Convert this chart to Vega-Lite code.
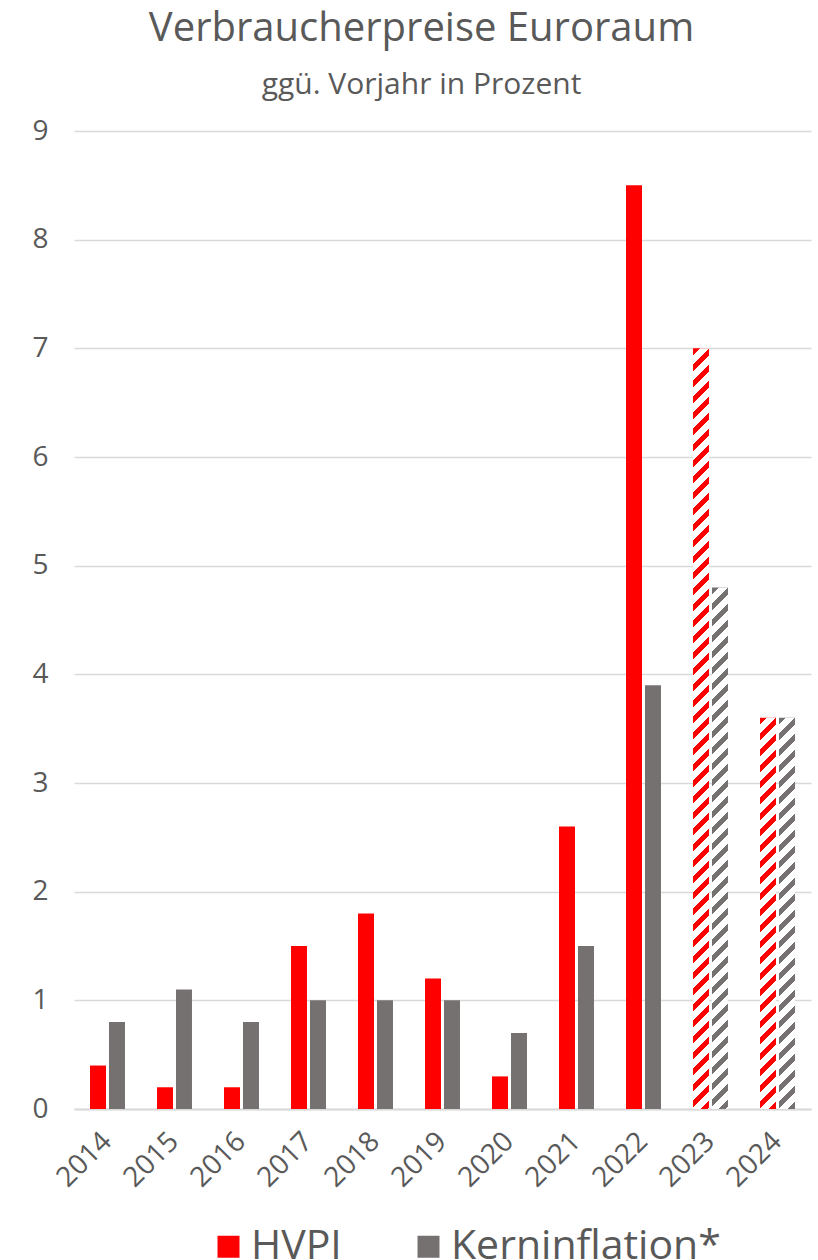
{
  "$schema": "https://vega.github.io/schema/vega-lite/v6.json",
  "width": 737,
  "height": 978,
  "autosize": {"type": "none"},
  "padding": {"left": 74, "top": 131, "right": 7, "bottom": 151},
  "background": "white",
  "config": {"view": {"stroke": null}, "font": "Open Sans"},
  "title": {
    "text": "Verbraucherpreise Euroraum",
    "subtitle": "ggü. Vorjahr in Prozent",
    "anchor": "middle",
    "frame": "group",
    "fontSize": 40,
    "subtitleFontSize": 30,
    "color": "#595959",
    "subtitleColor": "#595959",
    "font": "Open Sans",
    "subtitleFont": "Open Sans",
    "fontWeight": "normal",
    "subtitlePadding": 21,
    "offset": 17,
    "dx": -21
  },
  "data": {
    "values": [
      {"year": "2014", "series": "HVPI", "value": 0.4},
      {"year": "2014", "series": "Kerninflation*", "value": 0.8},
      {"year": "2015", "series": "HVPI", "value": 0.2},
      {"year": "2015", "series": "Kerninflation*", "value": 1.1},
      {"year": "2016", "series": "HVPI", "value": 0.2},
      {"year": "2016", "series": "Kerninflation*", "value": 0.8},
      {"year": "2017", "series": "HVPI", "value": 1.5},
      {"year": "2017", "series": "Kerninflation*", "value": 1.0},
      {"year": "2018", "series": "HVPI", "value": 1.8},
      {"year": "2018", "series": "Kerninflation*", "value": 1.0},
      {"year": "2019", "series": "HVPI", "value": 1.2},
      {"year": "2019", "series": "Kerninflation*", "value": 1.0},
      {"year": "2020", "series": "HVPI", "value": 0.3},
      {"year": "2020", "series": "Kerninflation*", "value": 0.7},
      {"year": "2021", "series": "HVPI", "value": 2.6},
      {"year": "2021", "series": "Kerninflation*", "value": 1.5},
      {"year": "2022", "series": "HVPI", "value": 8.5},
      {"year": "2022", "series": "Kerninflation*", "value": 3.9},
      {"year": "2023", "series": "HVPI", "value": 7.0},
      {"year": "2023", "series": "Kerninflation*", "value": 4.8},
      {"year": "2024", "series": "HVPI", "value": 3.6},
      {"year": "2024", "series": "Kerninflation*", "value": 3.6}
    ]
  },
  "encoding": {
    "x": {
      "field": "year",
      "type": "nominal",
      "title": null,
      "scale": {"paddingInner": 0.478, "paddingOuter": 0.239},
      "axis": {
        "labelAngle": -45,
        "labelAlign": "right",
        "labelBaseline": "middle",
        "labelFontSize": 28,
        "labelColor": "#595959",
        "labelFont": "Open Sans",
        "ticks": false,
        "domainColor": "#d9d9d9",
        "domainWidth": 2,
        "labelPadding": 28,
        "grid": false
      }
    },
    "xOffset": {
      "field": "series",
      "type": "nominal",
      "sort": ["HVPI", "Kerninflation*"],
      "scale": {"paddingInner": 0.158, "paddingOuter": 0}
    },
    "y": {
      "field": "value",
      "type": "quantitative",
      "title": null,
      "scale": {"domain": [0, 9], "nice": false},
      "axis": {
        "values": [0, 1, 2, 3, 4, 5, 6, 7, 8, 9],
        "labelFontSize": 28,
        "labelColor": "#595959",
        "labelFont": "Open Sans",
        "ticks": false,
        "domain": false,
        "grid": true,
        "gridColor": "#d9d9d9",
        "gridWidth": 1.5,
        "labelPadding": 26
      }
    }
  },
  "layer": [
    {
      "mark": {"type": "bar"},
      "encoding": {
        "color": {
          "field": "series",
          "type": "nominal",
          "scale": {"domain": ["HVPI", "Kerninflation*"], "range": ["#ff0000", "#767171"]},
          "legend": {
            "orient": "none",
            "legendX": 134,
            "legendY": 1095,
            "direction": "horizontal",
            "title": null,
            "symbolType": "square",
            "symbolSize": 484,
            "symbolStrokeWidth": 0,
            "labelFontSize": 41,
            "labelFont": "Open Sans",
            "labelColor": "#595959",
            "labelOffset": 2,
            "labelLimit": 0,
            "columnPadding": 66
          }
        }
      }
    },
    {
      "transform": [{"filter": "datum.year == '2023' && datum.series == 'HVPI'"}],
      "mark": {
        "type": "bar",
        "fill": {
          "gradient": "linear", "x1": 0, "y1": 0, "x2": 0.022112, "y2": 1.05124,
          "stops": [
            {"offset":0.00875,"color":"#fff0"},{"offset":0.00875,"color":"#fff"},{"offset":0.02,"color":"#fff"},{"offset":0.02,"color":"#fff0"},
            {"offset":0.02875,"color":"#fff0"},{"offset":0.02875,"color":"#fff"},{"offset":0.04,"color":"#fff"},{"offset":0.04,"color":"#fff0"},
            {"offset":0.04875,"color":"#fff0"},{"offset":0.04875,"color":"#fff"},{"offset":0.06,"color":"#fff"},{"offset":0.06,"color":"#fff0"},
            {"offset":0.06875,"color":"#fff0"},{"offset":0.06875,"color":"#fff"},{"offset":0.08,"color":"#fff"},{"offset":0.08,"color":"#fff0"},
            {"offset":0.08875,"color":"#fff0"},{"offset":0.08875,"color":"#fff"},{"offset":0.1,"color":"#fff"},{"offset":0.1,"color":"#fff0"},
            {"offset":0.10875,"color":"#fff0"},{"offset":0.10875,"color":"#fff"},{"offset":0.12,"color":"#fff"},{"offset":0.12,"color":"#fff0"},
            {"offset":0.12875,"color":"#fff0"},{"offset":0.12875,"color":"#fff"},{"offset":0.14,"color":"#fff"},{"offset":0.14,"color":"#fff0"},
            {"offset":0.14875,"color":"#fff0"},{"offset":0.14875,"color":"#fff"},{"offset":0.16,"color":"#fff"},{"offset":0.16,"color":"#fff0"},
            {"offset":0.16875,"color":"#fff0"},{"offset":0.16875,"color":"#fff"},{"offset":0.18,"color":"#fff"},{"offset":0.18,"color":"#fff0"},
            {"offset":0.18875,"color":"#fff0"},{"offset":0.18875,"color":"#fff"},{"offset":0.2,"color":"#fff"},{"offset":0.2,"color":"#fff0"},
            {"offset":0.20875,"color":"#fff0"},{"offset":0.20875,"color":"#fff"},{"offset":0.22,"color":"#fff"},{"offset":0.22,"color":"#fff0"},
            {"offset":0.22875,"color":"#fff0"},{"offset":0.22875,"color":"#fff"},{"offset":0.24,"color":"#fff"},{"offset":0.24,"color":"#fff0"},
            {"offset":0.24875,"color":"#fff0"},{"offset":0.24875,"color":"#fff"},{"offset":0.26,"color":"#fff"},{"offset":0.26,"color":"#fff0"},
            {"offset":0.26875,"color":"#fff0"},{"offset":0.26875,"color":"#fff"},{"offset":0.28,"color":"#fff"},{"offset":0.28,"color":"#fff0"},
            {"offset":0.28875,"color":"#fff0"},{"offset":0.28875,"color":"#fff"},{"offset":0.3,"color":"#fff"},{"offset":0.3,"color":"#fff0"},
            {"offset":0.30875,"color":"#fff0"},{"offset":0.30875,"color":"#fff"},{"offset":0.32,"color":"#fff"},{"offset":0.32,"color":"#fff0"},
            {"offset":0.32875,"color":"#fff0"},{"offset":0.32875,"color":"#fff"},{"offset":0.34,"color":"#fff"},{"offset":0.34,"color":"#fff0"},
            {"offset":0.34875,"color":"#fff0"},{"offset":0.34875,"color":"#fff"},{"offset":0.36,"color":"#fff"},{"offset":0.36,"color":"#fff0"},
            {"offset":0.36875,"color":"#fff0"},{"offset":0.36875,"color":"#fff"},{"offset":0.38,"color":"#fff"},{"offset":0.38,"color":"#fff0"},
            {"offset":0.38875,"color":"#fff0"},{"offset":0.38875,"color":"#fff"},{"offset":0.4,"color":"#fff"},{"offset":0.4,"color":"#fff0"},
            {"offset":0.40875,"color":"#fff0"},{"offset":0.40875,"color":"#fff"},{"offset":0.42,"color":"#fff"},{"offset":0.42,"color":"#fff0"},
            {"offset":0.42875,"color":"#fff0"},{"offset":0.42875,"color":"#fff"},{"offset":0.44,"color":"#fff"},{"offset":0.44,"color":"#fff0"},
            {"offset":0.44875,"color":"#fff0"},{"offset":0.44875,"color":"#fff"},{"offset":0.46,"color":"#fff"},{"offset":0.46,"color":"#fff0"},
            {"offset":0.46875,"color":"#fff0"},{"offset":0.46875,"color":"#fff"},{"offset":0.48,"color":"#fff"},{"offset":0.48,"color":"#fff0"},
            {"offset":0.48875,"color":"#fff0"},{"offset":0.48875,"color":"#fff"},{"offset":0.5,"color":"#fff"},{"offset":0.5,"color":"#fff0"},
            {"offset":0.50875,"color":"#fff0"},{"offset":0.50875,"color":"#fff"},{"offset":0.52,"color":"#fff"},{"offset":0.52,"color":"#fff0"},
            {"offset":0.52875,"color":"#fff0"},{"offset":0.52875,"color":"#fff"},{"offset":0.54,"color":"#fff"},{"offset":0.54,"color":"#fff0"},
            {"offset":0.54875,"color":"#fff0"},{"offset":0.54875,"color":"#fff"},{"offset":0.56,"color":"#fff"},{"offset":0.56,"color":"#fff0"},
            {"offset":0.56875,"color":"#fff0"},{"offset":0.56875,"color":"#fff"},{"offset":0.58,"color":"#fff"},{"offset":0.58,"color":"#fff0"},
            {"offset":0.58875,"color":"#fff0"},{"offset":0.58875,"color":"#fff"},{"offset":0.6,"color":"#fff"},{"offset":0.6,"color":"#fff0"},
            {"offset":0.60875,"color":"#fff0"},{"offset":0.60875,"color":"#fff"},{"offset":0.62,"color":"#fff"},{"offset":0.62,"color":"#fff0"},
            {"offset":0.62875,"color":"#fff0"},{"offset":0.62875,"color":"#fff"},{"offset":0.64,"color":"#fff"},{"offset":0.64,"color":"#fff0"},
            {"offset":0.64875,"color":"#fff0"},{"offset":0.64875,"color":"#fff"},{"offset":0.66,"color":"#fff"},{"offset":0.66,"color":"#fff0"},
            {"offset":0.66875,"color":"#fff0"},{"offset":0.66875,"color":"#fff"},{"offset":0.68,"color":"#fff"},{"offset":0.68,"color":"#fff0"},
            {"offset":0.68875,"color":"#fff0"},{"offset":0.68875,"color":"#fff"},{"offset":0.7,"color":"#fff"},{"offset":0.7,"color":"#fff0"},
            {"offset":0.70875,"color":"#fff0"},{"offset":0.70875,"color":"#fff"},{"offset":0.72,"color":"#fff"},{"offset":0.72,"color":"#fff0"},
            {"offset":0.72875,"color":"#fff0"},{"offset":0.72875,"color":"#fff"},{"offset":0.74,"color":"#fff"},{"offset":0.74,"color":"#fff0"},
            {"offset":0.74875,"color":"#fff0"},{"offset":0.74875,"color":"#fff"},{"offset":0.76,"color":"#fff"},{"offset":0.76,"color":"#fff0"},
            {"offset":0.76875,"color":"#fff0"},{"offset":0.76875,"color":"#fff"},{"offset":0.78,"color":"#fff"},{"offset":0.78,"color":"#fff0"},
            {"offset":0.78875,"color":"#fff0"},{"offset":0.78875,"color":"#fff"},{"offset":0.8,"color":"#fff"},{"offset":0.8,"color":"#fff0"},
            {"offset":0.80875,"color":"#fff0"},{"offset":0.80875,"color":"#fff"},{"offset":0.82,"color":"#fff"},{"offset":0.82,"color":"#fff0"},
            {"offset":0.82875,"color":"#fff0"},{"offset":0.82875,"color":"#fff"},{"offset":0.84,"color":"#fff"},{"offset":0.84,"color":"#fff0"},
            {"offset":0.84875,"color":"#fff0"},{"offset":0.84875,"color":"#fff"},{"offset":0.86,"color":"#fff"},{"offset":0.86,"color":"#fff0"},
            {"offset":0.86875,"color":"#fff0"},{"offset":0.86875,"color":"#fff"},{"offset":0.88,"color":"#fff"},{"offset":0.88,"color":"#fff0"},
            {"offset":0.88875,"color":"#fff0"},{"offset":0.88875,"color":"#fff"},{"offset":0.9,"color":"#fff"},{"offset":0.9,"color":"#fff0"},
            {"offset":0.90875,"color":"#fff0"},{"offset":0.90875,"color":"#fff"},{"offset":0.92,"color":"#fff"},{"offset":0.92,"color":"#fff0"},
            {"offset":0.92875,"color":"#fff0"},{"offset":0.92875,"color":"#fff"},{"offset":0.94,"color":"#fff"},{"offset":0.94,"color":"#fff0"},
            {"offset":0.94875,"color":"#fff0"},{"offset":0.94875,"color":"#fff"},{"offset":0.96,"color":"#fff"},{"offset":0.96,"color":"#fff0"},
            {"offset":0.96875,"color":"#fff0"},{"offset":0.96875,"color":"#fff"},{"offset":0.98,"color":"#fff"},{"offset":0.98,"color":"#fff0"}
          ]
        }
      }
    },
    {
      "transform": [{"filter": "datum.year == '2023' && datum.series == 'Kerninflation*'"}],
      "mark": {
        "type": "bar",
        "fill": {
          "gradient": "linear", "x1": 0, "y1": 0, "x2": 0.047003, "y2": 1.5323,
          "stops": [
            {"offset":0.00875,"color":"#fff0"},{"offset":0.00875,"color":"#fff"},{"offset":0.02,"color":"#fff"},{"offset":0.02,"color":"#fff0"},
            {"offset":0.02875,"color":"#fff0"},{"offset":0.02875,"color":"#fff"},{"offset":0.04,"color":"#fff"},{"offset":0.04,"color":"#fff0"},
            {"offset":0.04875,"color":"#fff0"},{"offset":0.04875,"color":"#fff"},{"offset":0.06,"color":"#fff"},{"offset":0.06,"color":"#fff0"},
            {"offset":0.06875,"color":"#fff0"},{"offset":0.06875,"color":"#fff"},{"offset":0.08,"color":"#fff"},{"offset":0.08,"color":"#fff0"},
            {"offset":0.08875,"color":"#fff0"},{"offset":0.08875,"color":"#fff"},{"offset":0.1,"color":"#fff"},{"offset":0.1,"color":"#fff0"},
            {"offset":0.10875,"color":"#fff0"},{"offset":0.10875,"color":"#fff"},{"offset":0.12,"color":"#fff"},{"offset":0.12,"color":"#fff0"},
            {"offset":0.12875,"color":"#fff0"},{"offset":0.12875,"color":"#fff"},{"offset":0.14,"color":"#fff"},{"offset":0.14,"color":"#fff0"},
            {"offset":0.14875,"color":"#fff0"},{"offset":0.14875,"color":"#fff"},{"offset":0.16,"color":"#fff"},{"offset":0.16,"color":"#fff0"},
            {"offset":0.16875,"color":"#fff0"},{"offset":0.16875,"color":"#fff"},{"offset":0.18,"color":"#fff"},{"offset":0.18,"color":"#fff0"},
            {"offset":0.18875,"color":"#fff0"},{"offset":0.18875,"color":"#fff"},{"offset":0.2,"color":"#fff"},{"offset":0.2,"color":"#fff0"},
            {"offset":0.20875,"color":"#fff0"},{"offset":0.20875,"color":"#fff"},{"offset":0.22,"color":"#fff"},{"offset":0.22,"color":"#fff0"},
            {"offset":0.22875,"color":"#fff0"},{"offset":0.22875,"color":"#fff"},{"offset":0.24,"color":"#fff"},{"offset":0.24,"color":"#fff0"},
            {"offset":0.24875,"color":"#fff0"},{"offset":0.24875,"color":"#fff"},{"offset":0.26,"color":"#fff"},{"offset":0.26,"color":"#fff0"},
            {"offset":0.26875,"color":"#fff0"},{"offset":0.26875,"color":"#fff"},{"offset":0.28,"color":"#fff"},{"offset":0.28,"color":"#fff0"},
            {"offset":0.28875,"color":"#fff0"},{"offset":0.28875,"color":"#fff"},{"offset":0.3,"color":"#fff"},{"offset":0.3,"color":"#fff0"},
            {"offset":0.30875,"color":"#fff0"},{"offset":0.30875,"color":"#fff"},{"offset":0.32,"color":"#fff"},{"offset":0.32,"color":"#fff0"},
            {"offset":0.32875,"color":"#fff0"},{"offset":0.32875,"color":"#fff"},{"offset":0.34,"color":"#fff"},{"offset":0.34,"color":"#fff0"},
            {"offset":0.34875,"color":"#fff0"},{"offset":0.34875,"color":"#fff"},{"offset":0.36,"color":"#fff"},{"offset":0.36,"color":"#fff0"},
            {"offset":0.36875,"color":"#fff0"},{"offset":0.36875,"color":"#fff"},{"offset":0.38,"color":"#fff"},{"offset":0.38,"color":"#fff0"},
            {"offset":0.38875,"color":"#fff0"},{"offset":0.38875,"color":"#fff"},{"offset":0.4,"color":"#fff"},{"offset":0.4,"color":"#fff0"},
            {"offset":0.40875,"color":"#fff0"},{"offset":0.40875,"color":"#fff"},{"offset":0.42,"color":"#fff"},{"offset":0.42,"color":"#fff0"},
            {"offset":0.42875,"color":"#fff0"},{"offset":0.42875,"color":"#fff"},{"offset":0.44,"color":"#fff"},{"offset":0.44,"color":"#fff0"},
            {"offset":0.44875,"color":"#fff0"},{"offset":0.44875,"color":"#fff"},{"offset":0.46,"color":"#fff"},{"offset":0.46,"color":"#fff0"},
            {"offset":0.46875,"color":"#fff0"},{"offset":0.46875,"color":"#fff"},{"offset":0.48,"color":"#fff"},{"offset":0.48,"color":"#fff0"},
            {"offset":0.48875,"color":"#fff0"},{"offset":0.48875,"color":"#fff"},{"offset":0.5,"color":"#fff"},{"offset":0.5,"color":"#fff0"},
            {"offset":0.50875,"color":"#fff0"},{"offset":0.50875,"color":"#fff"},{"offset":0.52,"color":"#fff"},{"offset":0.52,"color":"#fff0"},
            {"offset":0.52875,"color":"#fff0"},{"offset":0.52875,"color":"#fff"},{"offset":0.54,"color":"#fff"},{"offset":0.54,"color":"#fff0"},
            {"offset":0.54875,"color":"#fff0"},{"offset":0.54875,"color":"#fff"},{"offset":0.56,"color":"#fff"},{"offset":0.56,"color":"#fff0"},
            {"offset":0.56875,"color":"#fff0"},{"offset":0.56875,"color":"#fff"},{"offset":0.58,"color":"#fff"},{"offset":0.58,"color":"#fff0"},
            {"offset":0.58875,"color":"#fff0"},{"offset":0.58875,"color":"#fff"},{"offset":0.6,"color":"#fff"},{"offset":0.6,"color":"#fff0"},
            {"offset":0.60875,"color":"#fff0"},{"offset":0.60875,"color":"#fff"},{"offset":0.62,"color":"#fff"},{"offset":0.62,"color":"#fff0"},
            {"offset":0.62875,"color":"#fff0"},{"offset":0.62875,"color":"#fff"},{"offset":0.64,"color":"#fff"},{"offset":0.64,"color":"#fff0"},
            {"offset":0.64875,"color":"#fff0"},{"offset":0.64875,"color":"#fff"},{"offset":0.66,"color":"#fff"},{"offset":0.66,"color":"#fff0"},
            {"offset":0.66875,"color":"#fff0"},{"offset":0.66875,"color":"#fff"},{"offset":0.68,"color":"#fff"},{"offset":0.68,"color":"#fff0"}
          ]
        }
      }
    },
    {
      "transform": [{"filter": "datum.year == '2024'"}],
      "mark": {
        "type": "bar",
        "fill": {
          "gradient": "linear", "x1": 0, "y1": 0, "x2": 0.083499, "y2": 2.04155,
          "stops": [
            {"offset":0.00875,"color":"#fff0"},{"offset":0.00875,"color":"#fff"},{"offset":0.02,"color":"#fff"},{"offset":0.02,"color":"#fff0"},
            {"offset":0.02875,"color":"#fff0"},{"offset":0.02875,"color":"#fff"},{"offset":0.04,"color":"#fff"},{"offset":0.04,"color":"#fff0"},
            {"offset":0.04875,"color":"#fff0"},{"offset":0.04875,"color":"#fff"},{"offset":0.06,"color":"#fff"},{"offset":0.06,"color":"#fff0"},
            {"offset":0.06875,"color":"#fff0"},{"offset":0.06875,"color":"#fff"},{"offset":0.08,"color":"#fff"},{"offset":0.08,"color":"#fff0"},
            {"offset":0.08875,"color":"#fff0"},{"offset":0.08875,"color":"#fff"},{"offset":0.1,"color":"#fff"},{"offset":0.1,"color":"#fff0"},
            {"offset":0.10875,"color":"#fff0"},{"offset":0.10875,"color":"#fff"},{"offset":0.12,"color":"#fff"},{"offset":0.12,"color":"#fff0"},
            {"offset":0.12875,"color":"#fff0"},{"offset":0.12875,"color":"#fff"},{"offset":0.14,"color":"#fff"},{"offset":0.14,"color":"#fff0"},
            {"offset":0.14875,"color":"#fff0"},{"offset":0.14875,"color":"#fff"},{"offset":0.16,"color":"#fff"},{"offset":0.16,"color":"#fff0"},
            {"offset":0.16875,"color":"#fff0"},{"offset":0.16875,"color":"#fff"},{"offset":0.18,"color":"#fff"},{"offset":0.18,"color":"#fff0"},
            {"offset":0.18875,"color":"#fff0"},{"offset":0.18875,"color":"#fff"},{"offset":0.2,"color":"#fff"},{"offset":0.2,"color":"#fff0"},
            {"offset":0.20875,"color":"#fff0"},{"offset":0.20875,"color":"#fff"},{"offset":0.22,"color":"#fff"},{"offset":0.22,"color":"#fff0"},
            {"offset":0.22875,"color":"#fff0"},{"offset":0.22875,"color":"#fff"},{"offset":0.24,"color":"#fff"},{"offset":0.24,"color":"#fff0"},
            {"offset":0.24875,"color":"#fff0"},{"offset":0.24875,"color":"#fff"},{"offset":0.26,"color":"#fff"},{"offset":0.26,"color":"#fff0"},
            {"offset":0.26875,"color":"#fff0"},{"offset":0.26875,"color":"#fff"},{"offset":0.28,"color":"#fff"},{"offset":0.28,"color":"#fff0"},
            {"offset":0.28875,"color":"#fff0"},{"offset":0.28875,"color":"#fff"},{"offset":0.3,"color":"#fff"},{"offset":0.3,"color":"#fff0"},
            {"offset":0.30875,"color":"#fff0"},{"offset":0.30875,"color":"#fff"},{"offset":0.32,"color":"#fff"},{"offset":0.32,"color":"#fff0"},
            {"offset":0.32875,"color":"#fff0"},{"offset":0.32875,"color":"#fff"},{"offset":0.34,"color":"#fff"},{"offset":0.34,"color":"#fff0"},
            {"offset":0.34875,"color":"#fff0"},{"offset":0.34875,"color":"#fff"},{"offset":0.36,"color":"#fff"},{"offset":0.36,"color":"#fff0"},
            {"offset":0.36875,"color":"#fff0"},{"offset":0.36875,"color":"#fff"},{"offset":0.38,"color":"#fff"},{"offset":0.38,"color":"#fff0"},
            {"offset":0.38875,"color":"#fff0"},{"offset":0.38875,"color":"#fff"},{"offset":0.4,"color":"#fff"},{"offset":0.4,"color":"#fff0"},
            {"offset":0.40875,"color":"#fff0"},{"offset":0.40875,"color":"#fff"},{"offset":0.42,"color":"#fff"},{"offset":0.42,"color":"#fff0"},
            {"offset":0.42875,"color":"#fff0"},{"offset":0.42875,"color":"#fff"},{"offset":0.44,"color":"#fff"},{"offset":0.44,"color":"#fff0"},
            {"offset":0.44875,"color":"#fff0"},{"offset":0.44875,"color":"#fff"},{"offset":0.46,"color":"#fff"},{"offset":0.46,"color":"#fff0"},
            {"offset":0.46875,"color":"#fff0"},{"offset":0.46875,"color":"#fff"},{"offset":0.48,"color":"#fff"},{"offset":0.48,"color":"#fff0"},
            {"offset":0.48875,"color":"#fff0"},{"offset":0.48875,"color":"#fff"},{"offset":0.5,"color":"#fff"},{"offset":0.5,"color":"#fff0"},
            {"offset":0.50875,"color":"#fff0"},{"offset":0.50875,"color":"#fff"},{"offset":0.52,"color":"#fff"},{"offset":0.52,"color":"#fff0"}
          ]
        }
      }
    }
  ]
}
